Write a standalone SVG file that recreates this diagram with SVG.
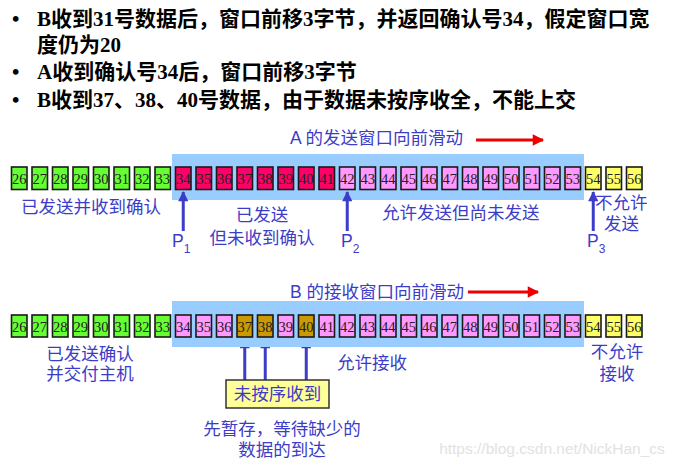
<svg xmlns="http://www.w3.org/2000/svg" width="677" height="467" viewBox="0 0 677 467">
<defs>
<style>
.bul{font-family:"Liberation Serif","Noto Sans CJK SC",serif;font-weight:bold;font-size:21px;fill:#000}
.lbl{font-family:"Liberation Sans","Noto Sans CJK SC",sans-serif;font-size:17.5px;fill:#3c3cc8}
.num{font-family:"Liberation Serif",serif;font-size:14.5px;fill:#222;text-anchor:middle}
.c{stroke:#1a1a1a;stroke-width:1.6}
.g{fill:#66ff33}.r{fill:#ff0066}.p{fill:#ff99ff}.y{fill:#ffff66}.b{fill:#cc9900}
.win{fill:#99ccff}
.ba{stroke:#3c3cc8;stroke-width:3;fill:none}
.ra{stroke:#ee0000;stroke-width:3;fill:none}
.mid{text-anchor:middle}
</style>
<marker id="bh" viewBox="0 0 10 10" refX="9" refY="5" markerWidth="4" markerHeight="3.4" orient="auto" markerUnits="strokeWidth">
<path d="M0,0 L10,5 L0,10 z" fill="#3c3cc8"/>
</marker>
<marker id="rh" viewBox="0 0 10 10" refX="9" refY="5" markerWidth="7" markerHeight="3.8" orient="auto" markerUnits="strokeWidth">
<path d="M0,0 L10,5 L0,10 z" fill="#ee0000"/>
</marker>
</defs>
<rect width="677" height="467" fill="#fff"/>

<g id="bullets">
<text class="bul" x="12" y="26">•</text>
<text class="bul" x="37" y="26">B收到31号数据后，窗口前移3字节，并返回确认号34，假定窗口宽</text>
<text class="bul" x="37" y="52">度仍为20</text>
<text class="bul" x="12" y="79">•</text>
<text class="bul" x="37" y="79">A收到确认号34后，窗口前移3字节</text>
<text class="bul" x="12" y="107">•</text>
<text class="bul" x="37" y="107">B收到37、38、40号数据，由于数据未按序收全，不能上交</text>
</g>

<g id="sender-window">
<rect class="win" x="172" y="154" width="412" height="46"/>
<text class="lbl" x="290" y="144">A 的发送窗口向前滑动</text>
<line class="ra" x1="476" y1="140" x2="543" y2="140" marker-end="url(#rh)"/>
</g>

<g id="sender-cells">
<rect class="c g" x="11.5" y="167" width="15.5" height="22.5"/><text class="num" x="19.25" y="184">26</text>
<rect class="c g" x="32" y="167" width="15.5" height="22.5"/><text class="num" x="39.75" y="184">27</text>
<rect class="c g" x="52.5" y="167" width="15.5" height="22.5"/><text class="num" x="60.25" y="184">28</text>
<rect class="c g" x="73" y="167" width="15.5" height="22.5"/><text class="num" x="80.75" y="184">29</text>
<rect class="c g" x="93.5" y="167" width="15.5" height="22.5"/><text class="num" x="101.25" y="184">30</text>
<rect class="c g" x="114" y="167" width="15.5" height="22.5"/><text class="num" x="121.75" y="184">31</text>
<rect class="c g" x="134.5" y="167" width="15.5" height="22.5"/><text class="num" x="142.25" y="184">32</text>
<rect class="c g" x="155" y="167" width="15.5" height="22.5"/><text class="num" x="162.75" y="184">33</text>
<rect class="c r" x="175.5" y="167" width="15.5" height="22.5"/><text class="num" x="183.25" y="184">34</text>
<rect class="c r" x="196" y="167" width="15.5" height="22.5"/><text class="num" x="203.75" y="184">35</text>
<rect class="c r" x="216.5" y="167" width="15.5" height="22.5"/><text class="num" x="224.25" y="184">36</text>
<rect class="c r" x="237" y="167" width="15.5" height="22.5"/><text class="num" x="244.75" y="184">37</text>
<rect class="c r" x="257.5" y="167" width="15.5" height="22.5"/><text class="num" x="265.25" y="184">38</text>
<rect class="c r" x="278" y="167" width="15.5" height="22.5"/><text class="num" x="285.75" y="184">39</text>
<rect class="c r" x="298.5" y="167" width="15.5" height="22.5"/><text class="num" x="306.25" y="184">40</text>
<rect class="c r" x="319" y="167" width="15.5" height="22.5"/><text class="num" x="326.75" y="184">41</text>
<rect class="c p" x="339.5" y="167" width="15.5" height="22.5"/><text class="num" x="347.25" y="184">42</text>
<rect class="c p" x="360" y="167" width="15.5" height="22.5"/><text class="num" x="367.75" y="184">43</text>
<rect class="c p" x="380.5" y="167" width="15.5" height="22.5"/><text class="num" x="388.25" y="184">44</text>
<rect class="c p" x="401" y="167" width="15.5" height="22.5"/><text class="num" x="408.75" y="184">45</text>
<rect class="c p" x="421.5" y="167" width="15.5" height="22.5"/><text class="num" x="429.25" y="184">46</text>
<rect class="c p" x="442" y="167" width="15.5" height="22.5"/><text class="num" x="449.75" y="184">47</text>
<rect class="c p" x="462.5" y="167" width="15.5" height="22.5"/><text class="num" x="470.25" y="184">48</text>
<rect class="c p" x="483" y="167" width="15.5" height="22.5"/><text class="num" x="490.75" y="184">49</text>
<rect class="c p" x="503.5" y="167" width="15.5" height="22.5"/><text class="num" x="511.25" y="184">50</text>
<rect class="c p" x="524" y="167" width="15.5" height="22.5"/><text class="num" x="531.75" y="184">51</text>
<rect class="c p" x="544.5" y="167" width="15.5" height="22.5"/><text class="num" x="552.25" y="184">52</text>
<rect class="c p" x="565" y="167" width="15.5" height="22.5"/><text class="num" x="572.75" y="184">53</text>
<rect class="c y" x="585.5" y="167" width="15.5" height="22.5"/><text class="num" x="593.25" y="184">54</text>
<rect class="c y" x="606" y="167" width="15.5" height="22.5"/><text class="num" x="613.75" y="184">55</text>
<rect class="c y" x="626.5" y="167" width="15.5" height="22.5"/><text class="num" x="634.25" y="184">56</text>
</g>

<g id="sender-labels">
<text class="lbl" x="21" y="213">已发送并收到确认</text>
<text class="lbl mid" x="262" y="221">已发送</text>
<text class="lbl mid" x="262" y="244">但未收到确认</text>
<text class="lbl" x="382" y="219">允许发送但尚未发送</text>
<text class="lbl" x="595" y="209">不允许</text>
<text class="lbl" x="604" y="230">发送</text>
<text class="lbl" x="172" y="247">P<tspan font-size="12" dy="6">1</tspan></text>
<text class="lbl" x="341" y="247">P<tspan font-size="12" dy="6">2</tspan></text>
<text class="lbl" x="587" y="247">P<tspan font-size="12" dy="6">3</tspan></text>
</g>

<g id="connectors">
<line class="ba" x1="183.25" y1="231" x2="183.25" y2="192" marker-end="url(#bh)"/>
<line class="ba" x1="347.25" y1="231" x2="347.25" y2="192" marker-end="url(#bh)"/>
<line class="ba" x1="593.25" y1="231" x2="593.25" y2="192" marker-end="url(#bh)"/>
<line class="ba" x1="244.75" y1="380" x2="244.75" y2="339" marker-end="url(#bh)"/>
<line class="ba" x1="265.25" y1="380" x2="265.25" y2="339" marker-end="url(#bh)"/>
<line class="ba" x1="306.25" y1="380" x2="306.25" y2="339" marker-end="url(#bh)"/>
</g>

<g id="receiver-window">
<rect class="win" x="172" y="301" width="412" height="46"/>
<text class="lbl" x="290" y="298">B 的接收窗口向前滑动</text>
<line class="ra" x1="468" y1="292" x2="538" y2="292" marker-end="url(#rh)"/>
</g>

<g id="receiver-cells">
<rect class="c g" x="11.5" y="315" width="15.5" height="22"/><text class="num" x="19.25" y="331.5">26</text>
<rect class="c g" x="32" y="315" width="15.5" height="22"/><text class="num" x="39.75" y="331.5">27</text>
<rect class="c g" x="52.5" y="315" width="15.5" height="22"/><text class="num" x="60.25" y="331.5">28</text>
<rect class="c g" x="73" y="315" width="15.5" height="22"/><text class="num" x="80.75" y="331.5">29</text>
<rect class="c g" x="93.5" y="315" width="15.5" height="22"/><text class="num" x="101.25" y="331.5">30</text>
<rect class="c g" x="114" y="315" width="15.5" height="22"/><text class="num" x="121.75" y="331.5">31</text>
<rect class="c g" x="134.5" y="315" width="15.5" height="22"/><text class="num" x="142.25" y="331.5">32</text>
<rect class="c g" x="155" y="315" width="15.5" height="22"/><text class="num" x="162.75" y="331.5">33</text>
<rect class="c p" x="175.5" y="315" width="15.5" height="22"/><text class="num" x="183.25" y="331.5">34</text>
<rect class="c p" x="196" y="315" width="15.5" height="22"/><text class="num" x="203.75" y="331.5">35</text>
<rect class="c p" x="216.5" y="315" width="15.5" height="22"/><text class="num" x="224.25" y="331.5">36</text>
<rect class="c b" x="237" y="315" width="15.5" height="22"/><text class="num" x="244.75" y="331.5">37</text>
<rect class="c b" x="257.5" y="315" width="15.5" height="22"/><text class="num" x="265.25" y="331.5">38</text>
<rect class="c p" x="278" y="315" width="15.5" height="22"/><text class="num" x="285.75" y="331.5">39</text>
<rect class="c b" x="298.5" y="315" width="15.5" height="22"/><text class="num" x="306.25" y="331.5">40</text>
<rect class="c p" x="319" y="315" width="15.5" height="22"/><text class="num" x="326.75" y="331.5">41</text>
<rect class="c p" x="339.5" y="315" width="15.5" height="22"/><text class="num" x="347.25" y="331.5">42</text>
<rect class="c p" x="360" y="315" width="15.5" height="22"/><text class="num" x="367.75" y="331.5">43</text>
<rect class="c p" x="380.5" y="315" width="15.5" height="22"/><text class="num" x="388.25" y="331.5">44</text>
<rect class="c p" x="401" y="315" width="15.5" height="22"/><text class="num" x="408.75" y="331.5">45</text>
<rect class="c p" x="421.5" y="315" width="15.5" height="22"/><text class="num" x="429.25" y="331.5">46</text>
<rect class="c p" x="442" y="315" width="15.5" height="22"/><text class="num" x="449.75" y="331.5">47</text>
<rect class="c p" x="462.5" y="315" width="15.5" height="22"/><text class="num" x="470.25" y="331.5">48</text>
<rect class="c p" x="483" y="315" width="15.5" height="22"/><text class="num" x="490.75" y="331.5">49</text>
<rect class="c p" x="503.5" y="315" width="15.5" height="22"/><text class="num" x="511.25" y="331.5">50</text>
<rect class="c p" x="524" y="315" width="15.5" height="22"/><text class="num" x="531.75" y="331.5">51</text>
<rect class="c p" x="544.5" y="315" width="15.5" height="22"/><text class="num" x="552.25" y="331.5">52</text>
<rect class="c p" x="565" y="315" width="15.5" height="22"/><text class="num" x="572.75" y="331.5">53</text>
<rect class="c y" x="585.5" y="315" width="15.5" height="22"/><text class="num" x="593.25" y="331.5">54</text>
<rect class="c y" x="606" y="315" width="15.5" height="22"/><text class="num" x="613.75" y="331.5">55</text>
<rect class="c y" x="626.5" y="315" width="15.5" height="22"/><text class="num" x="634.25" y="331.5">56</text>
</g>

<g id="receiver-labels">
<text class="lbl mid" x="90" y="360">已发送确认</text>
<text class="lbl mid" x="90" y="380">并交付主机</text>
<text class="lbl" x="337" y="369">允许接收</text>
<text class="lbl mid" x="617" y="358">不允许</text>
<text class="lbl mid" x="617" y="380">接收</text>
<text class="lbl mid" x="282" y="435">先暂存，等待缺少的</text>
<text class="lbl mid" x="282" y="456">数据的到达</text>
</g>

<g id="out-of-order-box">
<rect x="226" y="380" width="103" height="28" fill="#ffff99" stroke="#333" stroke-width="1.5"/>
<text class="lbl mid" x="277.5" y="400">未按序收到</text>
</g>

<text x="552" y="454" font-family="Liberation Sans, sans-serif" font-size="15.5" fill="#e2e2e2" text-anchor="middle">https://blog.csdn.net/NickHan_cs</text>
</svg>
